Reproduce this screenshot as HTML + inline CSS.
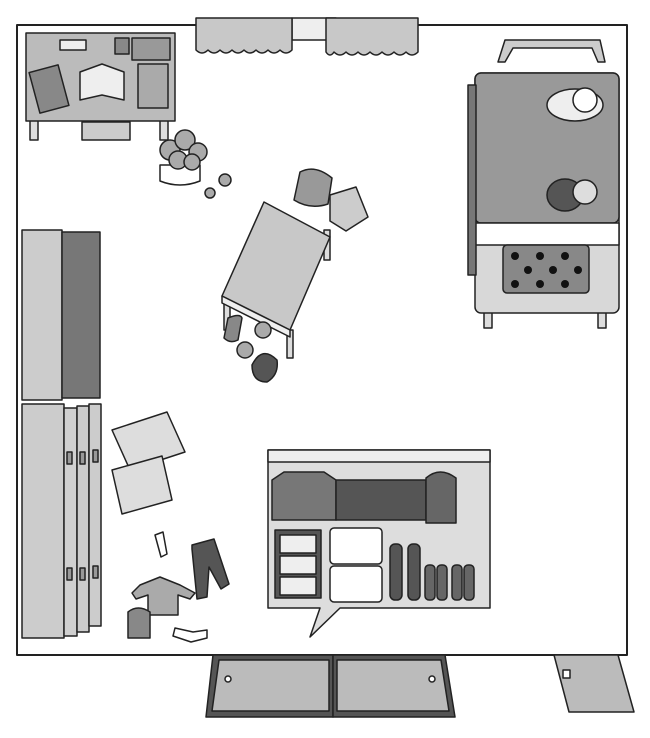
<!DOCTYPE html>
<html><head><meta charset="utf-8"><style>html,body{margin:0;padding:0;background:#fff}svg{display:block}</style></head>
<body>
<svg width="650" height="738" viewBox="0 0 650 738" xmlns="http://www.w3.org/2000/svg" stroke="#222" stroke-width="1.5" stroke-linejoin="round">
<!-- room -->
<rect x="17" y="25" width="610" height="630" fill="#fff" stroke-width="2"/>
<!-- curtains -->
<rect x="292" y="18" width="44" height="22" fill="#eee"/>
<path d="M198 18 H292 V50 q-6 6 -12 0 q-6 6 -12 0 q-6 6 -12 0 q-6 6 -12 0 q-6 6 -12 0 q-6 6 -12 0 q-6 6 -12 0 q-6 6 -12 0 V18Z" fill="#c8c8c8"/>
<path d="M330 18 H418 V52 q-6 6 -12 0 q-6 6 -12 0 q-6 6 -12 0 q-6 6 -12 0 q-6 6 -12 0 q-6 6 -12 0 q-6 6 -12 0 q-4 6 -8 0 V18Z" fill="#c8c8c8"/>
<!-- desk -->
<rect x="30" y="120" width="8" height="20" fill="#ddd"/><rect x="160" y="120" width="8" height="20" fill="#ddd"/>
<rect x="82" y="122" width="48" height="18" fill="#ccc"/>
<rect x="26" y="33" width="149" height="88" fill="#bbb"/>
<rect x="34" y="68" width="30" height="42" fill="#888" transform="rotate(-15 49 89)"/>
<path d="M80 72 L102 64 L124 72 V100 L102 95 L80 100Z" fill="#eee"/>
<rect x="138" y="64" width="30" height="44" fill="#aaa"/>
<rect x="132" y="38" width="38" height="22" fill="#999"/>
<rect x="60" y="40" width="26" height="10" fill="#eee"/>
<rect x="115" y="38" width="14" height="16" fill="#888"/>
<!-- plant -->
<path d="M160 165 v16 q20 8 40 0 v-16Z" fill="#fff"/>
<g fill="#aaa"><circle cx="170" cy="150" r="10"/><circle cx="185" cy="140" r="10"/><circle cx="198" cy="152" r="9"/><circle cx="178" cy="160" r="9"/><circle cx="192" cy="162" r="8"/><circle cx="225" cy="180" r="6"/><circle cx="210" cy="193" r="5"/></g>
<!-- bed -->
<path d="M505 40 H600 L605 62 H598 L592 48 H513 L505 62 H498Z" fill="#ccc"/>
<rect x="484" y="300" width="8" height="28" fill="#ddd"/><rect x="598" y="300" width="8" height="28" fill="#ddd"/>
<rect x="475" y="73" width="144" height="240" rx="6" fill="#d8d8d8"/>
<rect x="475" y="73" width="144" height="150" rx="6" fill="#999"/>
<rect x="475" y="223" width="144" height="22" fill="#fff"/>
<rect x="468" y="85" width="8" height="190" fill="#777"/>
<rect x="503" y="245" width="86" height="48" rx="4" fill="#888"/>
<g fill="#111" stroke="none"><circle cx="515" cy="256" r="4"/><circle cx="540" cy="256" r="4"/><circle cx="565" cy="256" r="4"/><circle cx="528" cy="270" r="4"/><circle cx="553" cy="270" r="4"/><circle cx="578" cy="270" r="4"/><circle cx="515" cy="284" r="4"/><circle cx="540" cy="284" r="4"/><circle cx="565" cy="284" r="4"/></g>
<ellipse cx="575" cy="105" rx="28" ry="16" fill="#eee"/><circle cx="585" cy="100" r="12" fill="#fff"/>
<ellipse cx="565" cy="195" rx="18" ry="16" fill="#555"/><circle cx="585" cy="192" r="12" fill="#ddd"/>
<!-- cushions -->
<path d="M300 172 q15 -8 32 6 l-4 26 q-18 6 -34 -4Z" fill="#999"/>
<path d="M330 195 l26 -8 l12 30 l-22 14 l-16 -10Z" fill="#ccc"/>
<!-- table -->
<path d="M224 300 v30 h6 v-28Z M287 330 v28 h6 v-28Z M324 230 v30 h6 v-30Z" fill="#ddd"/>
<path d="M264 202 L330 237 L290 330 L222 296Z" fill="#c8c8c8"/>
<path d="M222 296 L290 330 L290 337 L222 303Z" fill="#eee"/>
<!-- floor items -->
<path d="M228 318 q12 -5 14 0 l-4 22 q-8 4 -14 -2Z" fill="#888"/>
<circle cx="263" cy="330" r="8" fill="#aaa"/><circle cx="245" cy="350" r="8" fill="#aaa"/>
<path d="M252 365 q10 -20 25 -5 q2 15 -10 22 q-15 0 -15 -17Z" fill="#555"/>
<!-- bookshelf -->
<rect x="22" y="230" width="40" height="170" fill="#ccc"/>
<rect x="62" y="232" width="38" height="166" fill="#777"/>
<!-- lockers -->
<rect x="22" y="404" width="42" height="234" fill="#ccc"/>
<rect x="64" y="408" width="13" height="228" fill="#d0d0d0"/><rect x="77" y="406" width="12" height="226" fill="#ccc"/><rect x="89" y="404" width="12" height="222" fill="#ccc"/>
<g fill="#999"><rect x="67" y="452" width="5" height="12"/><rect x="80" y="452" width="5" height="12"/><rect x="93" y="450" width="5" height="12"/><rect x="67" y="568" width="5" height="12"/><rect x="80" y="568" width="5" height="12"/><rect x="93" y="566" width="5" height="12"/></g>
<!-- magazines -->
<path d="M112 430 l55 -18 l18 40 l-55 18Z" fill="#ddd"/>
<path d="M112 470 l50 -14 l10 44 l-50 14Z" fill="#ddd"/>
<!-- clothes -->
<path d="M140 585 l20 -8 l20 8 l15 8 l-5 6 l-12 -4 v20 h-30 v-20 l-12 4 l-4 -6Z" fill="#aaa"/>
<path d="M192 545 l22 -6 l15 45 l-8 5 l-12 -22 l-2 30 l-10 2 l-5 -50Z" fill="#555"/>
<path d="M128 612 q10 -8 22 0 v26 h-22Z" fill="#888"/>
<path d="M155 535 l8 -3 l4 22 l-6 3Z" fill="#fff"/>
<path d="M175 628 l18 4 l14 -2 v8 l-16 4 l-18 -6Z" fill="#fff"/>
<!-- closet bubble -->
<path d="M268 450 H490 V608 H340 L310 637 L320 608 H268Z" fill="#ddd"/>
<rect x="268" y="450" width="222" height="12" fill="#eee"/>
<g fill="#777"><path d="M272 480 l12 -8 h40 l12 8 v40 h-64Z"/><path d="M336 480 h90 v40 h-90Z" fill="#555"/><path d="M426 478 q14 -12 30 0 v45 h-30Z" fill="#666"/></g>
<rect x="275" y="530" width="46" height="68" fill="#555"/>
<g fill="#eee"><rect x="280" y="535" width="36" height="18"/><rect x="280" y="556" width="36" height="18"/><rect x="280" y="577" width="36" height="18"/></g>
<rect x="330" y="528" width="52" height="36" rx="4" fill="#fff"/><rect x="330" y="566" width="52" height="36" rx="4" fill="#fff"/>
<rect x="390" y="544" width="12" height="56" rx="5" fill="#555"/><rect x="408" y="544" width="12" height="56" rx="5" fill="#555"/>
<g fill="#666"><rect x="425" y="565" width="10" height="35" rx="4"/><rect x="437" y="565" width="10" height="35" rx="4"/><rect x="452" y="565" width="10" height="35" rx="4"/><rect x="464" y="565" width="10" height="35" rx="4"/></g>
<!-- mats -->
<path d="M213 655 H333 V717 H206Z" fill="#555"/>
<path d="M333 655 H445 L455 717 H333Z" fill="#555"/>
<path d="M219 660 H329 V711 H212Z" fill="#bbb"/>
<path d="M337 660 H441 L449 711 H337Z" fill="#bbb"/>
<circle cx="228" cy="679" r="3" fill="#fff"/><circle cx="432" cy="679" r="3" fill="#fff"/>
<path d="M554 655 H618 L634 712 H569Z" fill="#bbb"/>
<rect x="563" y="670" width="7" height="8" fill="#fff"/>
</svg>
</body></html>
